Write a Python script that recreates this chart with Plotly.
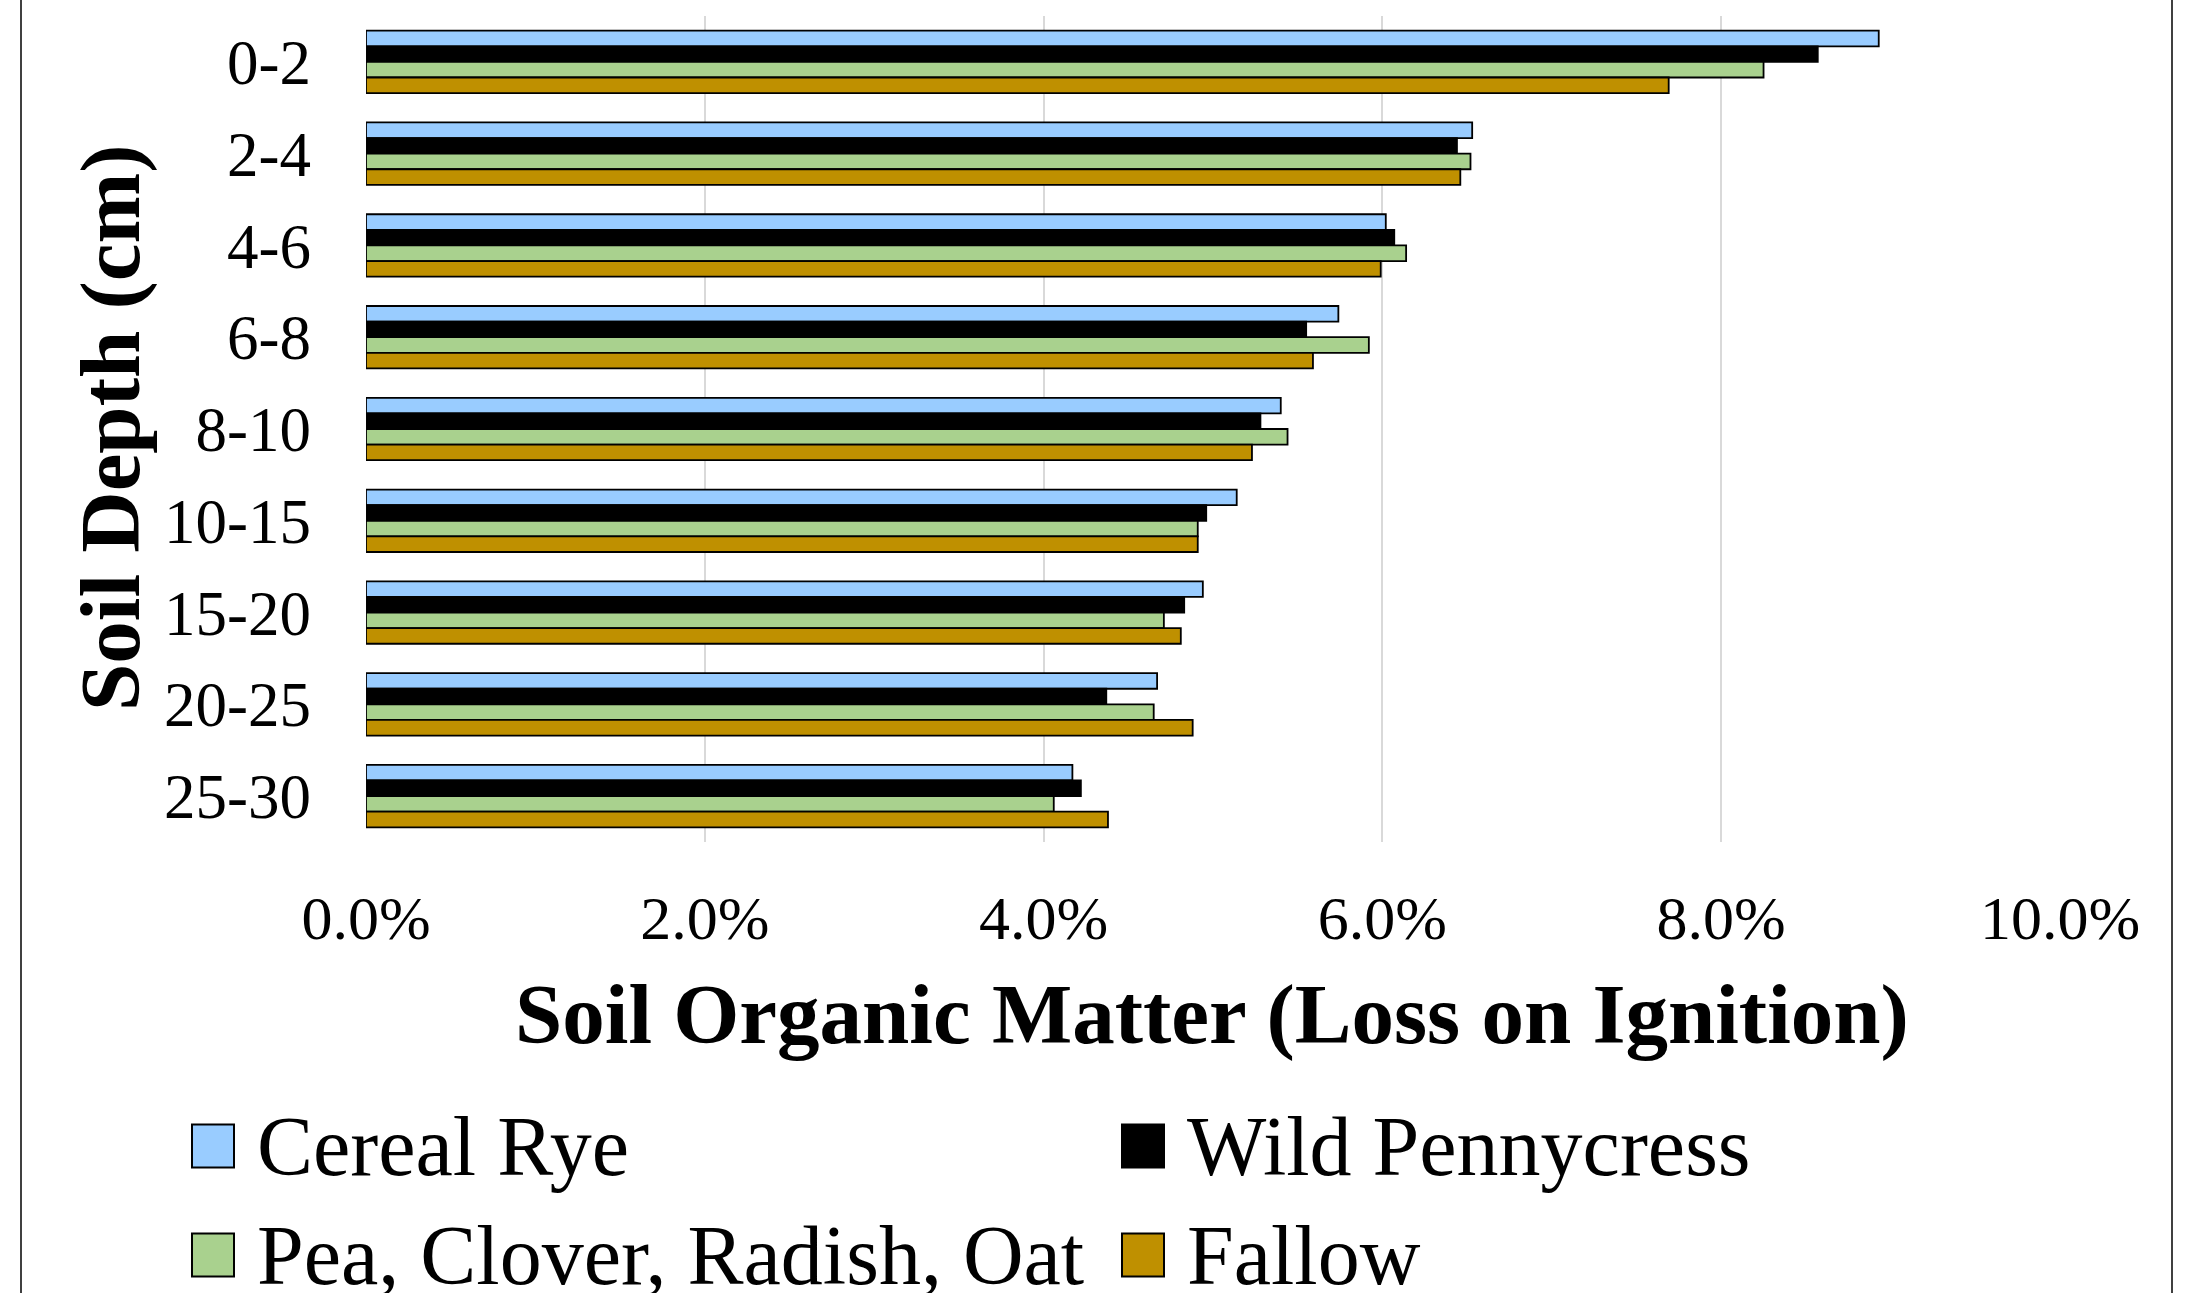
import plotly.graph_objects as go

# Soil depth intervals (cm), top of profile first
depths = ["0-2", "2-4", "4-6", "6-8", "8-10", "10-15", "15-20", "20-25", "25-30"]

# Soil organic matter, loss on ignition (%)
cereal_rye = [8.93, 6.53, 6.02, 5.74, 5.40, 5.14, 4.94, 4.67, 4.17]
wild_pennycress = [8.57, 6.44, 6.07, 5.55, 5.28, 4.96, 4.83, 4.37, 4.22]
pea_clover_radish_oat = [8.25, 6.52, 6.14, 5.92, 5.44, 4.91, 4.71, 4.65, 4.06]
fallow = [7.69, 6.46, 5.99, 5.59, 5.23, 4.91, 4.81, 4.88, 4.38]

series_names = ["Cereal Rye", "Wild Pennycress", "Pea, Clover, Radish, Oat", "Fallow"]
series_values = [cereal_rye, wild_pennycress, pea_clover_radish_oat, fallow]
series_colors = ["#99CCFF", "#000000", "#A9D18E", "#BF9000"]

x_ticks = [0, 2, 4, 6, 8, 10]
x_tick_labels = [f"{v:.1f}%" for v in x_ticks]

W, H = 2200, 1293
L, R, T, B = 366, 2060, 16, 842  # plot area in pixels
FONT = "Liberation Serif, Times New Roman, serif"


def px(x):
    return (x - L) / (R - L)


def py(y):
    return (B - y) / (B - T)


fig = go.Figure()
for name, vals, col in zip(series_names, series_values, series_colors):
    fig.add_trace(go.Bar(
        y=depths, x=vals, name=name, orientation="h",
        marker=dict(color=col, line=dict(color="#000000", width=1.8)),
        showlegend=False,
    ))

shapes = []
annotations = []

# outer frame (left and right edges)
for xpix in (21, 2172):
    shapes.append(dict(type="line", xref="paper", yref="paper",
                       x0=px(xpix), x1=px(xpix), y0=py(0), y1=py(H),
                       line=dict(color="#404040", width=2)))

# legend: two columns, two rows
leg_cols = [192, 1122]
leg_rows = [1146, 1255]
sw = 43
for i, (name, col) in enumerate(zip(series_names, series_colors)):
    cx = leg_cols[i % 2]
    cy = leg_rows[i // 2]
    shapes.append(dict(type="rect", xref="paper", yref="paper",
                       x0=px(cx), x1=px(cx + sw - 1),
                       y0=py(cy - sw / 2), y1=py(cy + sw / 2),
                       fillcolor=col, line=dict(color="#000000", width=2)))
    annotations.append(dict(xref="paper", yref="paper",
                            x=px(cx + sw + 20), y=py(cy),
                            xanchor="left", yanchor="middle", showarrow=False,
                            text=name, font=dict(family=FONT, size=84, color="#000000")))

# axis titles
annotations.append(dict(xref="paper", yref="paper", x=px(1212), y=py(1014),
                        xanchor="center", yanchor="middle", showarrow=False,
                        text="<b>Soil Organic Matter (Loss on Ignition)</b>",
                        font=dict(family=FONT, size=85, color="#000000")))
annotations.append(dict(xref="paper", yref="paper", x=px(110), y=py(428),
                        xanchor="center", yanchor="middle", showarrow=False,
                        textangle=-90,
                        text="<b>Soil Depth (cm)</b>",
                        font=dict(family=FONT, size=85, color="#000000")))

fig.update_layout(
    width=W, height=H,
    margin=dict(l=L, r=W - R, t=T, b=H - B, autoexpand=False),
    paper_bgcolor="white", plot_bgcolor="white",
    barmode="group", bargap=0.32, bargroupgap=0,
    shapes=shapes, annotations=annotations,
    font=dict(family=FONT, color="#000000"),
    xaxis=dict(range=[0, 10], tickmode="array", tickvals=x_ticks, ticktext=x_tick_labels,
               showgrid=True, gridcolor="#D9D9D9", gridwidth=2,
               zeroline=False, showline=False, ticks="",
               ticklabelstandoff=34,
               tickfont=dict(family=FONT, size=62, color="#000000")),
    yaxis=dict(autorange="reversed", categoryorder="array", categoryarray=depths,
               showgrid=False, zeroline=False, showline=False, ticks="",
               ticklabelstandoff=54,
               tickfont=dict(family=FONT, size=63, color="#000000")),
)

fig.write_html("out.html")
